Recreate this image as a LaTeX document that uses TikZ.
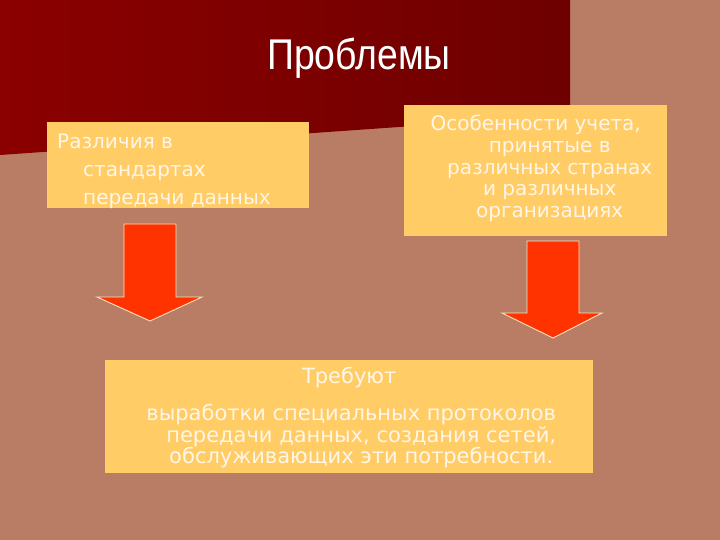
\documentclass[tikz,border=0pt]{standalone}
\usepackage{fontspec}
\setmainfont{DejaVu Sans}
\newfontfamily\titlefont{Liberation Sans}
\usetikzlibrary{shapes.geometric}
\definecolor{bgbrown}{HTML}{B97C64}
\definecolor{darkL}{HTML}{8B0000}
\definecolor{darkR}{HTML}{6E0000}
\definecolor{boxyellow}{HTML}{FFCC66}
\definecolor{arrowred}{HTML}{FF3300}
\definecolor{arrowedge}{HTML}{FFE2BC}
\definecolor{creamtext}{HTML}{FFF6E8}
\tikzset{
  panel/.style={fill=boxyellow, draw=none, inner sep=0pt, anchor=north west},
  boxtext/.style={text=creamtext, inner sep=0pt, anchor=base west},
  blockarrow/.style={fill=arrowred, draw=arrowedge, line width=0.9pt, line join=miter},
}
\begin{document}
\begin{tikzpicture}[x=1pt,y=-1pt]
\useasboundingbox (0,0) rectangle (720,540);
\fill[bgbrown] (0,0) rectangle (720,540);
\shade[left color=darkL, right color=darkR] (0,0) -- (570,0) -- (570,115) -- (0,155) -- cycle;

\node[text=white, inner sep=0pt, anchor=base, font=\titlefont\fontsize{43}{48}\selectfont] (title) at (359,70) {\scalebox{0.87}[1]{Проблемы}};

\node[panel, minimum width=262pt, minimum height=86pt] (boxA) at (47,122) {};
\node[panel, minimum width=263pt, minimum height=131pt] (boxB) at (404,105) {};
\node[panel, minimum width=488pt, minimum height=113pt] (boxC) at (105,360) {};

\node[boxtext, font=\fontsize{20}{28}\selectfont] (textA) at (57,148.5)
  {\parbox[t]{250pt}{\raggedright\hangindent=26pt\hangafter=1 Различия в\break стандартах\break передачи данных}};
\node[boxtext, font=\fontsize{20}{21.8}\selectfont] (textB) at (404,130.5)
  {\parbox[t]{263pt}{\centering\hangindent=28pt\hangafter=1 Особенности учета,\break принятые в\break различных странах\break и различных\break организациях}};
\node[boxtext, font=\fontsize{21}{19.5}\selectfont] (textC) at (105,383)
  {\parbox[t]{488pt}{\centering Требуют\par\vskip16pt\leftskip=4pt plus 1fil\hangindent=20pt\hangafter=1 выработки специальных протоколов\break передачи данных, создания сетей,\break обслуживающих эти потребности.}};

\draw[blockarrow] (124,224) -- (176,224) -- (176,297) -- (202,297) -- (150,321) -- (97,297) -- (124,297) -- cycle;
\draw[blockarrow] (527,241) -- (579,241) -- (579,313) -- (602,313) -- (553,338) -- (502,313) -- (527,313) -- cycle;
\end{tikzpicture}
\end{document}
